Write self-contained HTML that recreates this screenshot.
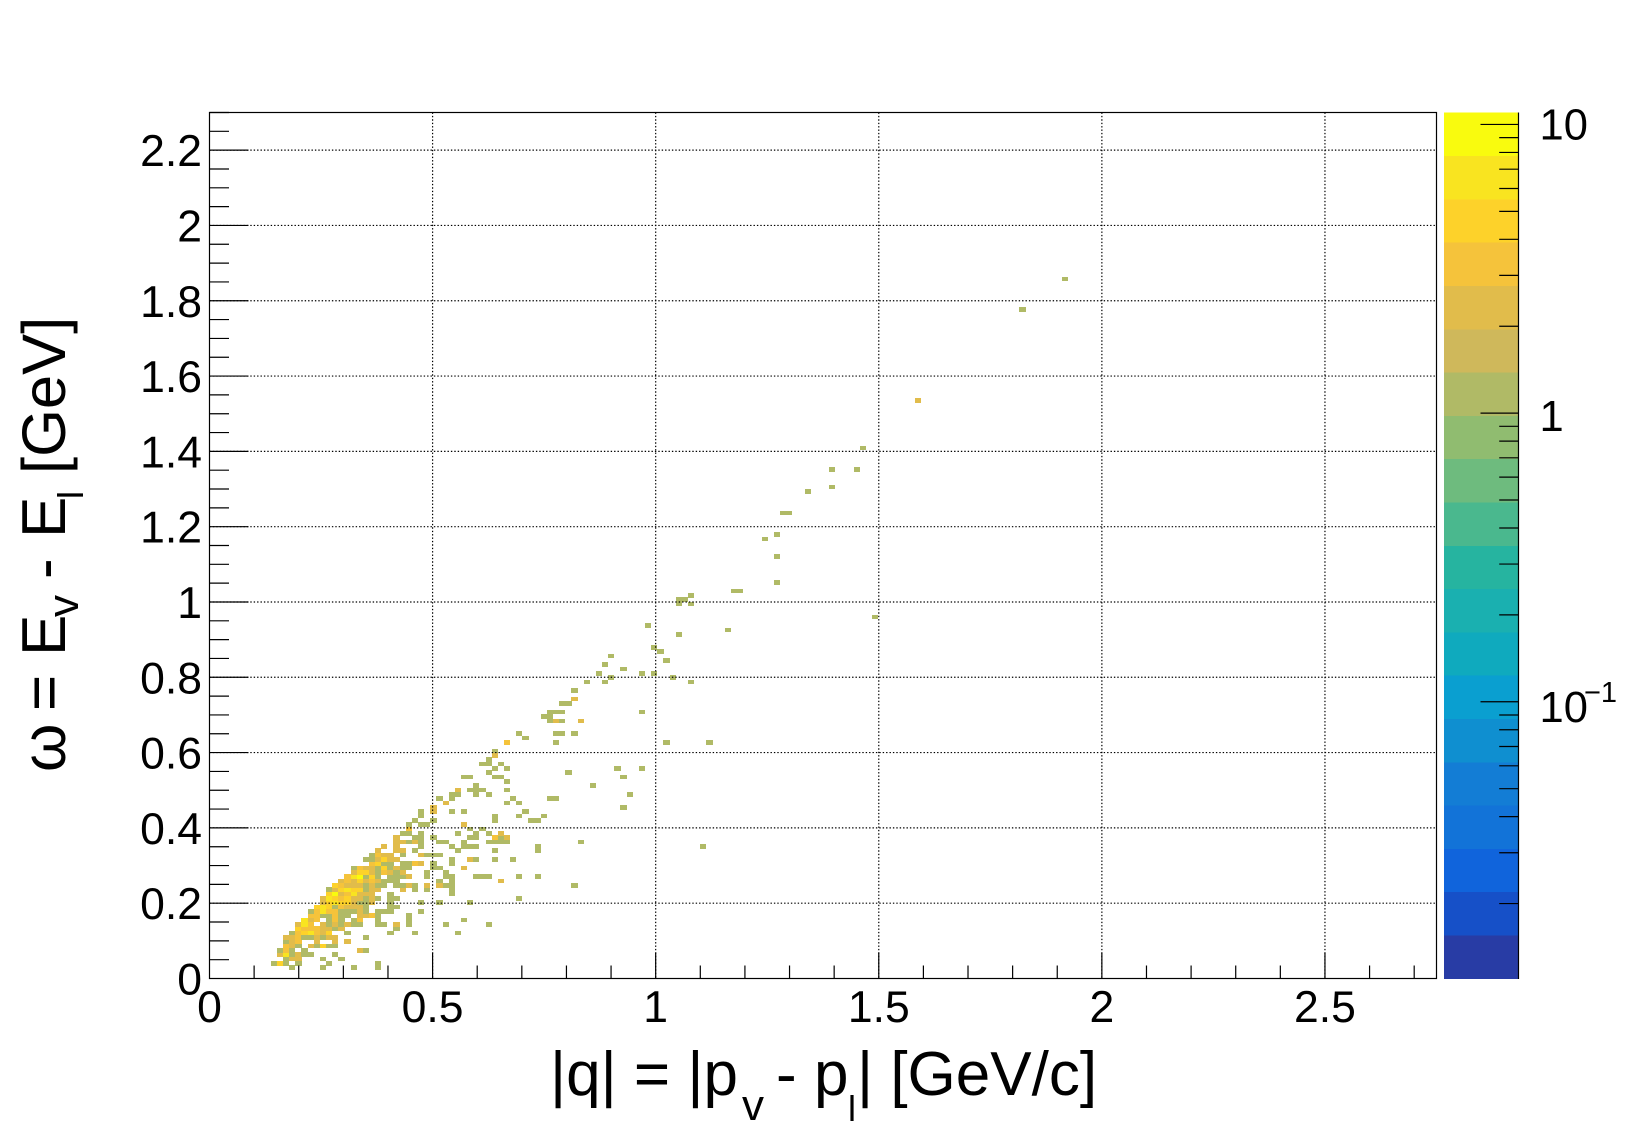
<!DOCTYPE html>
<html lang="en">
<head>
<meta charset="utf-8">
<title>omega vs q histogram</title>
<style>
html,body{margin:0;padding:0;background:#fff;}
svg{display:block;}
text{font-family:"Liberation Sans",sans-serif;fill:#000;}
</style>
</head>
<body>
<svg id="chart" xmlns="http://www.w3.org/2000/svg" width="1646" height="1122" viewBox="0 0 1646 1122">
  <rect x="0" y="0" width="1646" height="1122" fill="#fff"/>
  <g id="cells"></g>
  <g id="grid"></g>
  <g id="palette"></g>
  <g id="ticks"></g>
  <g id="labels"></g>
  <rect x="209.5" y="112.5" width="1227" height="866" fill="none" stroke="#000" stroke-width="1.2"/>

  <g font-size="62">
    <text x="550" y="1095">|q| = |p</text>
    <text x="742" y="1120" font-size="44">v</text>
    <text x="776" y="1095">-</text>
    <text x="814" y="1095">p</text>
    <text x="848" y="1121" font-size="36">l</text>
    <text x="857" y="1095">| [GeV/c]</text>
  </g>
  <g transform="translate(65,0) rotate(-90)" font-size="62">
    <text x="-772" y="0">ω</text>
    <text x="-711" y="0">=</text>
    <text x="-656" y="0">E</text>
    <text x="-617" y="13" font-size="44">v</text>
    <text x="-579" y="0">-</text>
    <text x="-538" y="0">E</text>
    <text x="-499" y="18" font-size="36">l</text>
    <text x="-474" y="0" font-size="61.5">[GeV]</text>
  </g>
</svg>
<script>
// Histogram binning (data domain)
const qMax = 2.75;
const omegaMax = 2.3;
const binsPerAxis = 200;
const zMin = 0.011;
const zMax = 11;

// Axis tick labels
const qTickLabels = ["0", "0.5", "1", "1.5", "2", "2.5"];
const omegaTickLabels = ["0", "0.2", "0.4", "0.6", "0.8", "1", "1.2", "1.4", "1.6", "1.8", "2", "2.2"];
const qMinorStep = 0.1;
const omegaMinorStep = 0.05;
const zDecades = [0.01, 0.1, 1, 10];

// Palette, bottom to top
const paletteColors = ["#283ca5","#1650c8","#1064dc","#1273d8","#137dd5","#0f8fd0","#0a9fd0","#0faabe","#1ab0b0","#26b4a0","#4ab88e","#6ebb7e","#90bc70","#b0ba66","#cfb85b","#e1bc4b","#f5c33b","#fdd22a","#f9e420","#f9fb0e"];

// Each row: omega bin, then pairs of q bin and bin content
const histogramRows = [
[2, 13,1,18,1,23,1,27,1],
[3, 10,1,11,4,12,1,14,1,19,1,27,1],
[4, 12,1,13,2,14,2,18,1,21,1],
[5, 11,2,12,6,13,1,14,2,15,1,16,1,20,1],
[6, 11,1,12,3,13,1,15,1,24,2,25,1],
[7, 12,3,13,2,14,1,16,2,17,1,18,4,19,1,20,1],
[8, 12,1,13,2,14,3,17,2,20,2,22,2],
[9, 12,2,13,2,14,3,15,1,16,1,17,2,18,1,19,2,20,2,25,1],
[10, 13,1,14,3,15,4,16,6,17,3,18,2,19,4,22,1,29,1,33,1,40,1],
[11, 14,4,15,3,16,3,17,3,18,2,19,2,20,1,21,2,30,1],
[12, 14,2,15,6,16,3,18,2,19,1,20,2,21,1,22,2,23,1,24,1,27,1,28,1,30,2,32,1,38,1,45,1],
[13, 15,6,16,2,17,3,19,1,20,3,21,1,23,1,24,3,27,1,32,1,41,1],
[14, 16,3,17,3,18,1,19,1,20,3,21,1,22,1,24,2,25,2,26,3,27,1,32,1],
[15, 16,1,17,3,18,6,19,3,20,3,21,1,22,1,23,1,24,2,25,1,27,1,28,1,29,1,34,1],
[16, 17,4,18,6,19,4,20,1,21,3,22,2,23,2,24,2,25,1,29,1,30,1],
[17, 18,2,19,4,20,6,21,4,22,4,23,2,24,1,25,1,26,2,29,1,34,1,37,1,42,1],
[18, 18,2,19,6,20,4,21,3,22,4,23,2,24,2,25,1,26,2,27,1,29,1,30,1,50,1],
[19, 19,4,20,9,21,2,22,3,23,6,24,2,25,2,26,2,29,1,39,1],
[20, 19,1,20,2,21,4,22,6,23,4,24,4,25,1,26,2,27,2,31,2,33,1,35,1,39,1],
[21, 20,4,21,3,22,2,23,2,24,2,25,1,26,2,27,1,28,1,30,1,31,1,32,2,33,1,35,2,37,2,38,1,39,1,59,1],
[22, 21,2,22,3,23,2,24,4,25,2,26,3,27,2,28,1,29,1,30,1,37,1,39,1,47,2],
[23, 22,3,23,6,24,9,25,1,26,4,27,1,29,1,30,1,31,1,32,2,35,1,38,1,39,1,43,1,44,1,45,1,50,1,53,1],
[24, 23,2,24,4,25,4,26,2,27,1,28,3,29,2,30,1,31,2,35,1,38,1],
[25, 23,1,24,3,25,2,26,2,27,1,28,4,29,1,30,2,31,1,32,1,36,1,37,1,41,2],
[26, 26,3,27,4,28,1,29,1,31,1,32,1,33,3,34,2,36,1,39,1],
[27, 25,1,26,1,27,2,28,4,29,2,30,2,39,1,42,2,43,1,46,1,49,1],
[28, 26,1,27,3,28,2,29,2,31,1,34,2,35,1,36,1,37,1],
[29, 27,2,30,2,31,2,33,1,40,1,46,1,53,1],
[30, 28,2,30,2,34,1,39,1,41,1,42,1,43,1,53,1,80,1],
[31, 30,2,31,2,32,1,33,2,34,1,37,1,38,1,41,1,45,1,46,1,47,1,48,1,60,1],
[32, 30,2,33,1,34,1,36,1,42,1,43,1,46,3,47,1,48,2],
[33, 31,1,32,1,34,1,40,1,43,1,45,1,47,2],
[34, 32,3,42,1,44,1],
[35, 32,1,34,1,35,1,41,2],
[36, 33,1,36,1,46,1,52,1,53,1],
[37, 34,1,46,1,50,1,54,1],
[38, 34,1,36,2,39,1,41,1,51,1],
[39, 36,2,67,1],
[40, 38,2,48,1,50,1],
[41, 37,1,39,1,49,1,55,1,56,1],
[42, 39,1,40,1,43,1,45,1,68,1],
[43, 40,2,42,1,43,1,44,1,48,1],
[44, 43,1,62,1],
[45, 48,1],
[46, 41,1,42,1,46,1,47,1,67,1],
[47, 45,1,58,1],
[48, 46,1,48,1,66,1,70,1],
[49, 44,1,45,1,47,1],
[50, 45,1],
[51, 46,2],
[52, 46,1],
[54, 48,3,56,1,74,1,81,1],
[55, 51,1],
[56, 50,1,56,1,57,1,59,1],
[59, 55,1,56,2,57,1,60,2],
[60, 54,1,55,1],
[61, 55,1,56,1,57,1,70,1],
[63, 57,1,58,1],
[64, 59,2],
[66, 59,1],
[68, 61,1,64,1,78,1],
[69, 65,1,75,1],
[70, 63,1,70,1,72,1],
[71, 67,1],
[72, 64,1],
[73, 74,1],
[74, 65,1],
[75, 73,1],
[76, 72,1],
[79, 76,1],
[80, 84,1],
[81, 71,1],
[83, 108,1],
[86, 76,1,78,1],
[87, 76,1,77,1],
[88, 78,1],
[89, 85,1,86,1],
[91, 92,1],
[97, 92,1],
[101, 90,1],
[102, 92,1],
[107, 93,1,94,1],
[112, 97,1],
[113, 101,1],
[117, 101,1,105,1],
[122, 106,1],
[133, 115,2],
[154, 132,1],
[161, 139,1]
];

const NS = "http://www.w3.org/2000/svg";
const frameLeft = 209.5, frameRight = 1436.5, frameTop = 112.5, frameBottom = 978.5;
const paletteLeft = 1444, paletteRight = 1518.5;

function xAxis(q) { return frameLeft + q / qMax * (frameRight - frameLeft); }
function yAxis(w) { return frameBottom - w / omegaMax * (frameBottom - frameTop); }
function zAxis(z) {
  const span = Math.log10(zMax) - Math.log10(zMin);
  return frameBottom - (Math.log10(z) - Math.log10(zMin)) / span * (frameBottom - frameTop);
}
function zColor(z) {
  const span = Math.log10(zMax) - Math.log10(zMin);
  const n = paletteColors.length;
  const k = Math.floor((Math.log10(z) - Math.log10(zMin)) / span * n);
  return paletteColors[Math.max(0, Math.min(n - 1, k))];
}
function make(tag, attrs, parent) {
  const el = document.createElementNS(NS, tag);
  for (const k in attrs) el.setAttribute(k, attrs[k]);
  parent.appendChild(el);
  return el;
}

const cellsG = document.getElementById("cells");
const gridG = document.getElementById("grid");
const paletteG = document.getElementById("palette");
const ticksG = document.getElementById("ticks");
const labelsG = document.getElementById("labels");

// Histogram cells
const qBinWidth = qMax / binsPerAxis;
const omegaBinWidth = omegaMax / binsPerAxis;
histogramRows.forEach(function (row) {
  const omegaBin = row[0];
  for (let i = 1; i < row.length; i += 2) {
    const qBin = row[i];
    const content = row[i + 1];
    const x0 = Math.round(xAxis(qBin * qBinWidth) - 0.05);
    const x1 = Math.round(xAxis((qBin + 1) * qBinWidth) + 0.05);
    const y0 = Math.round(yAxis((omegaBin + 1) * omegaBinWidth) - 0.2);
    const y1 = Math.round(yAxis(omegaBin * omegaBinWidth) + 0.1);
    const cell = make("rect", {x: x0, y: y0, width: x1 - x0, height: y1 - y0, fill: zColor(content), "shape-rendering": "crispEdges"}, cellsG);
    
    
  }
});

// Grid lines (dotted, on top of the cells)
qTickLabels.forEach(function (label) {
  const v = parseFloat(label);
  if (v === 0) return;
  const x = xAxis(v);
  const line = make("line", {x1: x, x2: x, y1: frameTop, y2: frameBottom, stroke: "#000", "stroke-width": 1.2, "stroke-dasharray": "1.4 2"}, gridG);
  
  
});
omegaTickLabels.forEach(function (label) {
  const v = parseFloat(label);
  if (v === 0) return;
  const y = yAxis(v);
  const line = make("line", {x1: frameLeft, x2: frameRight, y1: y, y2: y, stroke: "#000", "stroke-width": 1.2, "stroke-dasharray": "1.4 2"}, gridG);
  
  
});

// Colour scale bands
paletteColors.forEach(function (color, k) {
  const bandH = (frameBottom - frameTop) / paletteColors.length;
  const band = make("rect", {x: paletteLeft, y: frameBottom - (k + 1) * bandH, width: paletteRight - paletteLeft, height: bandH + 0.3, fill: color, "shape-rendering": "crispEdges"}, paletteG);
  
  
});
const zAxisLine = make("line", {x1: paletteRight, x2: paletteRight, y1: frameTop, y2: frameBottom + 0.5, stroke: "#000", "stroke-width": 1.2}, paletteG);



// Tick marks
function addTick(x1, y1, x2, y2, name) {
  const t = make("line", {x1: x1, y1: y1, x2: x2, y2: y2, stroke: "#000", "stroke-width": 1.2}, ticksG);
  
  
}
for (let n = 0; n * qMinorStep <= qMax + 1e-9; n++) {
  const v = n * qMinorStep;
  const major = n % 5 === 0;
  if (v > 0) addTick(xAxis(v), frameBottom, xAxis(v), frameBottom - (major ? 26 : 13), major ? 'x-major-tick' : 'x-minor-tick');
}
for (let n = 0; n * omegaMinorStep <= omegaMax + 1e-9; n++) {
  const v = n * omegaMinorStep;
  const major = n % 4 === 0;
  if (v > 0) addTick(frameLeft, yAxis(v), frameLeft + (major ? 39 : 19.5), yAxis(v), major ? 'y-major-tick' : 'y-minor-tick');
}
zDecades.forEach(function (d) {
  for (let m = 1; m <= 9; m++) {
    const z = d * m;
    if (z < zMin || z > zMax) continue;
    addTick(paletteRight, zAxis(z), paletteRight - (m === 1 ? 38 : 19.3), zAxis(z), m === 1 ? 'z-major-tick' : 'z-minor-tick');
  }
});

// Tick labels
qTickLabels.forEach(function (label) {
  const t = make("text", {x: xAxis(parseFloat(label)), y: 1022, "text-anchor": "middle", "font-size": 44.5}, labelsG);
  t.textContent = label;
  
  
});
omegaTickLabels.forEach(function (label) {
  const t = make("text", {x: 202, y: yAxis(parseFloat(label)) + 16, "text-anchor": "end", "font-size": 44.5}, labelsG);
  t.textContent = label;
  
  
});
const zLabel10 = make("text", {x: 1539.5, y: zAxis(10) + 15, "font-size": 43.5}, labelsG);
zLabel10.textContent = "10";


const zLabel1 = make("text", {x: 1539.5, y: zAxis(1) + 18, "font-size": 43.5}, labelsG);
zLabel1.textContent = "1";


const zLabelTenth = make("text", {x: 1539.5, y: zAxis(0.1) + 20, "font-size": 43.5}, labelsG);
zLabelTenth.textContent = "10";


const zLabelExp = make("text", {x: 1584, y: zAxis(0.1), "font-size": 29}, labelsG);
zLabelExp.textContent = "−1";


</script>
</body>
</html>
